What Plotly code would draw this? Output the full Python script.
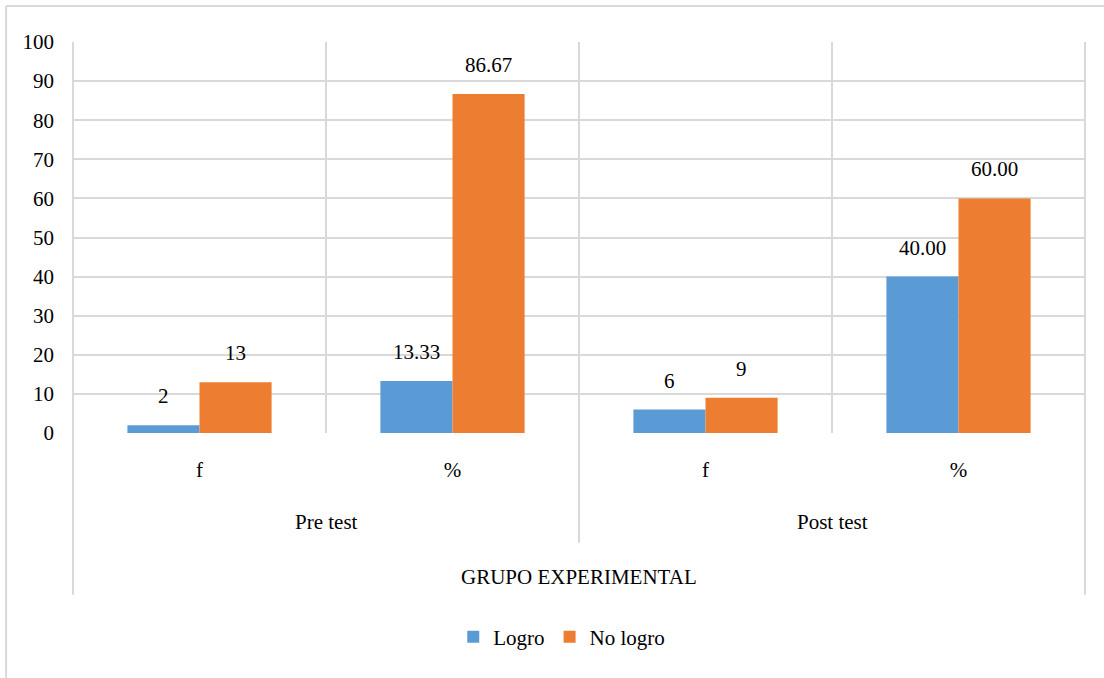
import plotly.graph_objects as go

grupos = ["Pre test", "Pre test", "Post test", "Post test"]
medidas = ["f", "%", "f", "%"]
logro = [2, 13.33, 6, 40.00]
no_logro = [13, 86.67, 9, 60.00]
series = ["Logro", "No logro"]
colores = ["#5B9BD5", "#ED7D31"]
titulo_eje = "GRUPO EXPERIMENTAL"

fuente = "Liberation Serif, Times New Roman, serif"
gris = "#d9d9d9"

claves = [g + " " + m for g, m in zip(grupos, medidas)]


def etiqueta(v, m):
    # f -> entero, % -> dos decimales
    return str(int(v)) if m == "f" else "%.2f" % v


fig = go.Figure()
for nombre, valores, color in zip(series, [logro, no_logro], colores):
    fig.add_trace(go.Bar(x=claves, y=valores, name=nombre, marker=dict(color=color, line=dict(width=0))))

# etiquetas de datos encima de cada barra
for valores, desplaz in zip([logro, no_logro], [-36, 36]):
    for c, v, m in zip(claves, valores, medidas):
        fig.add_annotation(x=c, y=v, text=etiqueta(v, m), showarrow=False, xshift=desplaz,
                           yanchor="bottom", yshift=15, font=dict(family=fuente, size=21, color="black"))

# etiquetas de grupo y titulo del eje
vistos = []
for i, g in enumerate(grupos):
    if g not in vistos:
        vistos.append(g)
        n = grupos.count(g)
        fig.add_annotation(x=i + (n - 1) / 2, xref="x", y=-0.227, yref="paper", text=g, showarrow=False,
                           yanchor="middle", font=dict(family=fuente, size=21, color="black"))
fig.add_annotation(x=(len(grupos) - 1) / 2, xref="x", y=-0.368, yref="paper", text=titulo_eje, showarrow=False,
                   yanchor="middle", font=dict(family=fuente, size=21, color="black"))

# lineas divisorias del eje de categorias
lineas = [(-0.5, -0.414), (1.5, -0.281), (len(grupos) - 0.5, -0.414)]
for xv, yb in lineas:
    fig.add_shape(type="line", xref="x", yref="paper", x0=xv, x1=xv, y0=yb, y1=1,
                  line=dict(color=gris, width=2), layer="below")

# borde del grafico
fig.add_shape(type="line", xref="paper", yref="paper", x0=-0.065, x1=1.1, y0=1.092, y1=1.092,
              line=dict(color=gris, width=2))
fig.add_shape(type="line", xref="paper", yref="paper", x0=-0.065, x1=-0.065, y0=1.092, y1=-0.7,
              line=dict(color=gris, width=2))

fig.update_layout(
    width=1104, height=678,
    margin=dict(l=72, r=18, t=42, b=245),
    paper_bgcolor="white",
    plot_bgcolor="white",
    barmode="group",
    bargap=0.43,
    bargroupgap=0,
    font=dict(family=fuente, size=21, color="black"),
    xaxis=dict(
        type="category",
        tickvals=claves,
        ticktext=medidas,
        tickson="boundaries",
        ticks="",
        showgrid=True,
        gridcolor=gris,
        gridwidth=2,
        showline=False,
        zeroline=False,
        ticklabelstandoff=22,
        tickfont=dict(family=fuente, size=21, color="black"),
    ),
    yaxis=dict(
        range=[0, 100],
        dtick=10,
        showgrid=True,
        gridcolor=gris,
        gridwidth=2,
        zeroline=False,
        showline=False,
        ticks="",
        ticklabelstandoff=17,
        tickfont=dict(family=fuente, size=21, color="black"),
    ),
    legend=dict(
        orientation="h",
        x=0.483, xanchor="center",
        y=-0.522, yanchor="middle",
        font=dict(family=fuente, size=21, color="black"),
        itemwidth=30,
        traceorder="normal",
    ),
    showlegend=True,
)

# sin margen del body para que el grafico ocupe la ventana desde (0,0)
fig.write_html("out.html", config={"displayModeBar": False},
               post_script="document.body.style.margin='0';")
